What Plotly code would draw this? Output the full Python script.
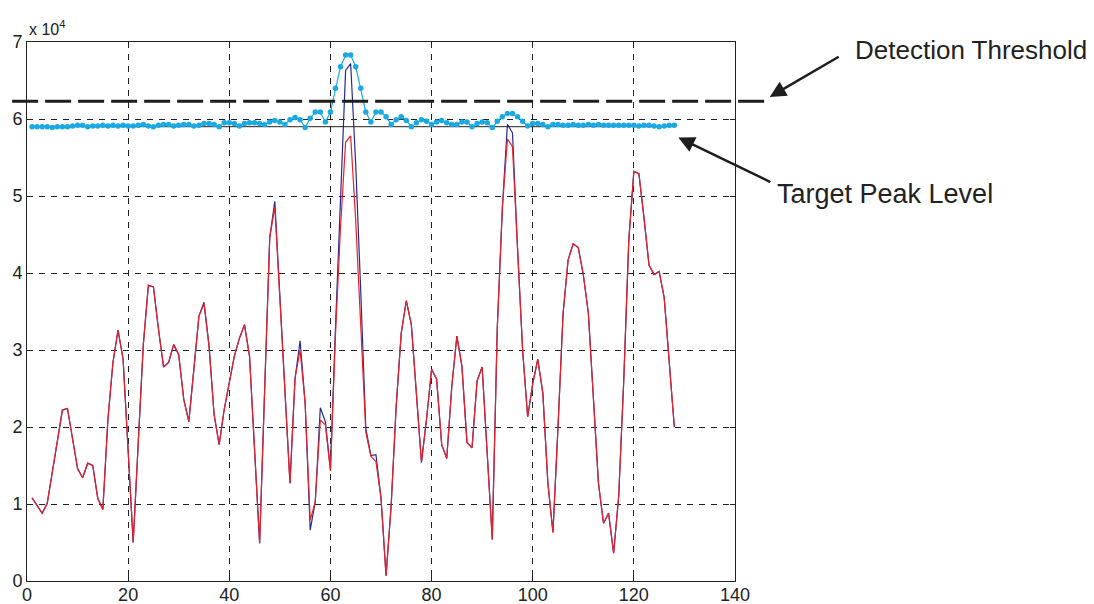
import plotly.graph_objects as go

# sample index
idx = list(range(1, 129))

# red series (x 10^4)
red = [1.08, 0.98, 0.88, 1.01, 1.40, 1.80, 2.22, 2.24, 1.86, 1.46,
       1.34, 1.53, 1.50, 1.07, 0.93, 2.10, 2.84, 3.26, 2.88, 1.70,
       0.50, 1.80, 3.07, 3.84, 3.82, 3.27, 2.78, 2.84, 3.07, 2.94,
       2.36, 2.07, 2.79, 3.44, 3.60, 3.05, 2.16, 1.77, 2.23, 2.60,
       2.92, 3.15, 3.33, 2.92, 1.70, 0.49, 2.50, 4.46, 4.86, 3.66,
       2.46, 1.27, 2.63, 3.00, 2.31, 0.79, 1.03, 2.09, 2.03, 1.43,
       3.20, 4.60, 5.70, 5.78, 4.68, 3.28, 1.93, 1.62, 1.55, 1.08,
       0.07, 0.97, 2.27, 3.22, 3.64, 3.33, 2.45, 1.54, 2.10, 2.75,
       2.62, 1.77, 1.59, 2.53, 3.18, 2.79, 1.80, 1.73, 2.60, 2.78,
       1.66, 0.54, 3.30, 4.85, 5.74, 5.64, 4.32, 3.00, 2.13, 2.56,
       2.88, 2.44, 1.27, 0.63, 2.00, 3.47, 4.17, 4.38, 4.33, 3.98,
       3.48, 2.38, 1.27, 0.75, 0.88, 0.36, 1.10, 2.60, 4.43, 5.32,
       5.29, 4.72, 4.10, 3.98, 4.02, 3.68, 2.89, 2.00]

# blue series (x 10^4)
blue = [1.08, 0.98, 0.88, 1.01, 1.40, 1.80, 2.22, 2.24, 1.86, 1.46,
        1.34, 1.53, 1.50, 1.07, 0.93, 2.10, 2.84, 3.26, 2.88, 1.70,
        0.50, 1.80, 3.07, 3.84, 3.82, 3.27, 2.78, 2.84, 3.07, 2.94,
        2.36, 2.07, 2.79, 3.44, 3.62, 3.05, 2.16, 1.77, 2.23, 2.60,
        2.92, 3.15, 3.33, 2.92, 1.70, 0.49, 2.50, 4.46, 4.93, 3.66,
        2.46, 1.27, 2.63, 3.12, 2.31, 0.66, 1.03, 2.25, 2.07, 1.45,
        3.30, 4.94, 6.63, 6.72, 5.41, 3.75, 1.98, 1.63, 1.64, 1.08,
        0.07, 0.97, 2.27, 3.22, 3.64, 3.33, 2.45, 1.54, 2.10, 2.75,
        2.62, 1.77, 1.59, 2.53, 3.18, 2.79, 1.80, 1.73, 2.60, 2.78,
        1.66, 0.54, 3.30, 4.85, 5.93, 5.82, 4.32, 3.00, 2.13, 2.56,
        2.88, 2.44, 1.27, 0.63, 2.00, 3.47, 4.17, 4.38, 4.33, 3.98,
        3.48, 2.38, 1.27, 0.75, 0.88, 0.36, 1.10, 2.60, 4.43, 5.32,
        5.29, 4.72, 4.10, 3.98, 4.02, 3.68, 2.89, 2.00]

# cyan dotted series (x 10^4)
cyan = [5.90, 5.90, 5.90, 5.90, 5.89, 5.90, 5.90, 5.90, 5.91, 5.92,
        5.92, 5.90, 5.91, 5.91, 5.92, 5.91, 5.92, 5.91, 5.92, 5.91,
        5.91, 5.92, 5.93, 5.91, 5.90, 5.92, 5.93, 5.93, 5.91, 5.92,
        5.93, 5.93, 5.91, 5.92, 5.94, 5.94, 5.93, 5.90, 5.95, 5.95,
        5.94, 5.91, 5.94, 5.95, 5.95, 5.94, 5.93, 5.96, 5.98, 5.96,
        5.93, 5.99, 6.02, 5.99, 5.89, 6.01, 6.09, 6.09, 5.96, 6.09,
        6.40, 6.68, 6.83, 6.83, 6.68, 6.40, 6.09, 5.96, 6.09, 6.09,
        6.03, 5.93, 5.99, 6.03, 5.98, 5.90, 5.95, 5.99, 5.97, 5.93,
        5.96, 5.98, 5.95, 5.93, 5.93, 5.96, 5.96, 5.90, 5.94, 5.96,
        5.95, 5.89, 5.97, 6.03, 6.07, 6.07, 6.03, 5.97, 5.91, 5.94,
        5.94, 5.93, 5.90, 5.93, 5.93, 5.92, 5.92, 5.93, 5.92, 5.92,
        5.93, 5.92, 5.93, 5.92, 5.92, 5.92, 5.92, 5.92, 5.92, 5.92,
        5.91, 5.92, 5.92, 5.91, 5.90, 5.91, 5.92, 5.92]

target_level = 5.90
threshold = 6.23

x_ticks = [0, 20, 40, 60, 80, 100, 120, 140]
y_ticks = [0, 1, 2, 3, 4, 5, 6, 7]
x_range = [0, 140]
y_range = [0, 7]

FONT = "Liberation Sans, Arial, Helvetica, sans-serif"

fig = go.Figure()

fig.add_trace(go.Scatter(x=idx, y=blue, mode="lines",
                         line=dict(color="#2a2a8f", width=1.2),
                         showlegend=False))
fig.add_trace(go.Scatter(x=idx, y=red, mode="lines",
                         line=dict(color="#e8202a", width=1.2),
                         showlegend=False))
fig.add_trace(go.Scatter(x=[idx[0], idx[-1]], y=[target_level, target_level],
                         mode="lines", line=dict(color="#222222", width=1),
                         showlegend=False))
fig.add_trace(go.Scatter(x=idx, y=cyan, mode="lines+markers",
                         line=dict(color="#1aa9e3", width=1.2),
                         marker=dict(color="#1aa9e3", size=5.5),
                         showlegend=False))

thr_paper = (threshold - y_range[0]) / (y_range[1] - y_range[0])

# detection threshold line (extends beyond plot area)
fig.add_shape(type="line", xref="paper", yref="paper",
              x0=-0.021, x1=1.042, y0=thr_paper, y1=thr_paper,
              line=dict(color="#1e1e1e", width=3, dash="26px,7px"),
              layer="above")

fig.add_annotation(xref="paper", yref="paper",
                   x=1.049, y=thr_paper + 0.008,
                   ax=72, ay=-42, axref="pixel", ayref="pixel",
                   showarrow=True, arrowhead=2, arrowsize=1.3, arrowwidth=2.5,
                   arrowcolor="#1e1e1e", text=" ")
fig.add_annotation(xref="paper", yref="paper", x=1.166, y=0.985,
                   xanchor="left", yanchor="middle", showarrow=False,
                   text="Detection Threshold",
                   font=dict(family=FONT, size=26, color="#222222"))

fig.add_annotation(xref="x", yref="y", x=128.8, y=5.76,
                   ax=95, ay=46, axref="pixel", ayref="pixel",
                   showarrow=True, arrowhead=2, arrowsize=1.3, arrowwidth=2.5,
                   arrowcolor="#1e1e1e", text=" ")
fig.add_annotation(xref="paper", yref="paper", x=1.056, y=0.718,
                   xanchor="left", yanchor="middle", showarrow=False,
                   text="Target Peak Level",
                   font=dict(family=FONT, size=27, color="#222222"))

fig.add_annotation(xref="paper", yref="paper", x=0.0, y=1.0,
                   xanchor="left", yanchor="bottom", showarrow=False,
                   text="x 10<sup>4</sup>", yshift=2,
                   font=dict(family=FONT, size=16, color="#222222"))

axis_common = dict(showline=True, linecolor="#222222", linewidth=1,
                   mirror="ticks", ticks="inside", ticklen=5,
                   tickcolor="#222222", showgrid=True,
                   gridcolor="#222222", griddash="6px,6px", gridwidth=1,
                   zeroline=False, automargin=False,
                   tickfont=dict(family=FONT, size=18, color="#222222"))

fig.update_xaxes(range=x_range, tickvals=x_ticks, ticklabelstandoff=-3, **axis_common)
fig.update_yaxes(range=y_range, tickvals=y_ticks, ticklabelstandoff=0, **axis_common)

# the page body adds an 8px offset, so the figure is 8px smaller and shifted
fig.update_layout(width=1086, height=596,
                  margin=dict(l=19, r=359, t=34, b=23),
                  paper_bgcolor="white", plot_bgcolor="white",
                  showlegend=False)

fig.write_html("out.html")
